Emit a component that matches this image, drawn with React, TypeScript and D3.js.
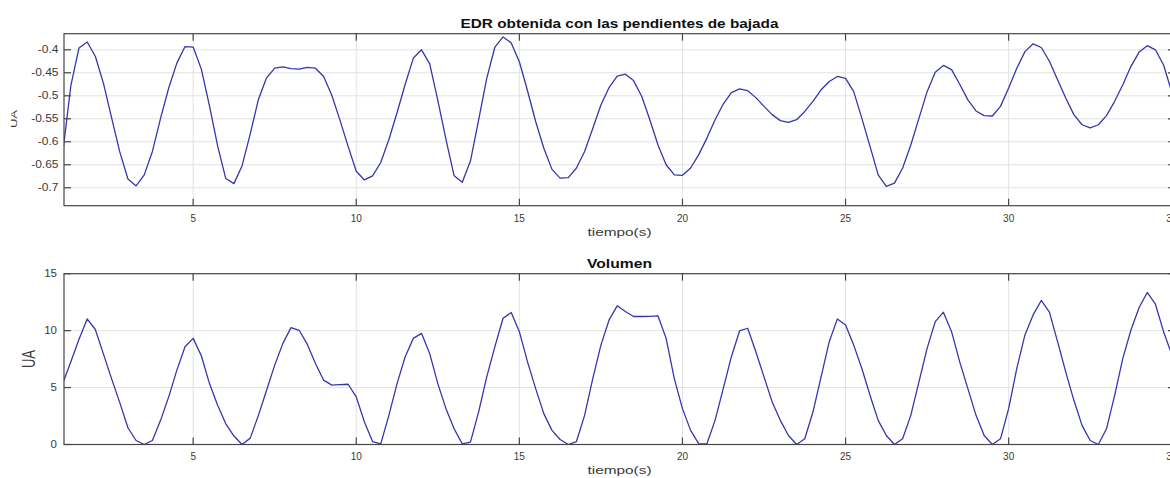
import React from "react";
import * as d3 from "d3";

// Sampling grid of both signals (seconds)
const T_START = 1.0;
const T_STEP = 0.25;

// EDR signal obtained from the down-slopes (arbitrary units)
const edr: number[] = [
  -0.625, -0.478, -0.396, -0.383, -0.414, -0.473, -0.548, -0.622, -0.681, -0.696,
  -0.672, -0.621, -0.549, -0.483, -0.429, -0.393, -0.394, -0.442, -0.522, -0.609,
  -0.680, -0.691, -0.652, -0.583, -0.508, -0.461, -0.440, -0.437, -0.441, -0.442,
  -0.438, -0.440, -0.458, -0.499, -0.553, -0.610, -0.664, -0.683, -0.674, -0.645,
  -0.595, -0.537, -0.475, -0.418, -0.400, -0.430, -0.510, -0.595, -0.674, -0.688,
  -0.642, -0.553, -0.462, -0.394, -0.372, -0.385, -0.426, -0.489, -0.556, -0.614,
  -0.660, -0.679, -0.678, -0.657, -0.621, -0.571, -0.520, -0.482, -0.457, -0.453,
  -0.467, -0.501, -0.552, -0.607, -0.650, -0.672, -0.673, -0.657, -0.628, -0.592,
  -0.552, -0.518, -0.493, -0.485, -0.489, -0.504, -0.523, -0.541, -0.554, -0.558,
  -0.552, -0.534, -0.512, -0.487, -0.469, -0.458, -0.462, -0.491, -0.549, -0.610,
  -0.672, -0.697, -0.690, -0.657, -0.607, -0.549, -0.491, -0.449, -0.434, -0.443,
  -0.475, -0.509, -0.533, -0.543, -0.544, -0.523, -0.483, -0.440, -0.404, -0.387,
  -0.395, -0.425, -0.465, -0.505, -0.541, -0.563, -0.570, -0.563, -0.543, -0.512,
  -0.476, -0.436, -0.405, -0.391, -0.400, -0.433, -0.492,
];

// Respiratory volume (arbitrary units)
const volumen: number[] = [
  5.35, 7.26, 9.24, 11.03, 10.1, 7.94, 5.76, 3.68, 1.47, 0.35,
  0.0, 0.35, 2.12, 4.18, 6.53, 8.59, 9.32, 7.79, 5.35, 3.44,
  1.82, 0.74, 0.0, 0.56, 2.56, 4.76, 6.97, 8.88, 10.26, 10.03,
  8.79, 7.12, 5.65, 5.21, 5.26, 5.29, 4.18, 1.97, 0.26, 0.06,
  2.56, 5.35, 7.71, 9.32, 9.76, 8.0, 5.35, 3.15, 1.38, 0.06,
  0.21, 2.85, 5.94, 8.59, 11.09, 11.59, 9.91, 7.26, 4.91, 2.71,
  1.24, 0.44, 0.0, 0.26, 2.56, 5.79, 8.73, 10.94, 12.18, 11.68,
  11.24, 11.24, 11.26, 11.29, 9.32, 5.79, 3.15, 1.24, 0.06, 0.06,
  2.12, 4.91, 7.71, 9.97, 10.21, 8.15, 5.94, 3.74, 2.12, 0.79,
  0.0, 0.5, 2.85, 5.94, 9.03, 11.03, 10.5, 8.73, 6.68, 4.32,
  2.12, 0.79, 0.0, 0.5, 2.56, 5.5, 8.44, 10.79, 11.62, 9.91,
  7.26, 4.91, 2.56, 0.79, 0.0, 0.5, 3.15, 6.68, 9.62, 11.38,
  12.65, 11.62, 9.03, 6.38, 3.88, 1.68, 0.35, 0.0, 1.38, 4.32,
  7.56, 10.06, 12.03, 13.35, 12.32, 9.91, 7.9,
];

const xTicks = [5, 10, 15, 20, 25, 30, 35];
const edrTicks = [-0.7, -0.65, -0.6, -0.55, -0.5, -0.45, -0.4];
const edrTickLabels = ["-0.7", "-0.65", "-0.6", "-0.55", "-0.5", "-0.45", "-0.4"];
const volTicks = [0, 5, 10, 15];
const volTickLabels = ["0", "5", "10", "15"];

const FONT = "'Liberation Sans', Arial, Helvetica, sans-serif";
const LINE_COLOR = "#3636ad";
const AXIS_COLOR = "#474747";
const GRID_COLOR = "#e2e2e2";
const TEXT_COLOR = "#3a3a3a";

const LEFT = 64;
const RIGHT = 1175;
const TICK_LEN = 7;

const x = d3.scaleLinear().domain([1.04, 35.1]).range([LEFT, RIGHT]);

type Panel = {
  id: string;
  top: number;
  bottom: number;
  domain: [number, number];
  values: number[];
  ticks: number[];
  tickLabels: string[];
  tickLabelRight: number;
  tickLabelScale: number;
  title: string;
  titleY: number;
  titleLen: number;
  xLabelY: number;
  yLabel: { cx: number; cy: number; along: number; across: number };
};

const panels: Panel[] = [
  {
    id: "edr",
    top: 33.7,
    bottom: 205.7,
    domain: [-0.739, -0.365],
    values: edr,
    ticks: edrTicks,
    tickLabels: edrTickLabels,
    tickLabelRight: 58.5,
    tickLabelScale: 1.2,
    title: "EDR obtenida con las pendientes de bajada",
    titleY: 28,
    titleLen: 318,
    xLabelY: 235.5,
    yLabel: { cx: 13.5, cy: 119, along: 1.3, across: 0.95 },
  },
  {
    id: "vol",
    top: 273.7,
    bottom: 444.5,
    domain: [0, 15],
    values: volumen,
    ticks: volTicks,
    tickLabels: volTickLabels,
    tickLabelRight: 57,
    tickLabelScale: 1.15,
    title: "Volumen",
    titleY: 268,
    titleLen: 65,
    xLabelY: 474,
    yLabel: { cx: 28.3, cy: 359, along: 1.3, across: 1.8 },
  },
];

function PanelView({ p }: { p: Panel }) {
  const y = d3.scaleLinear().domain(p.domain).range([p.bottom, p.top]);
  const line = d3
    .line<number>()
    .x((_, i) => x(T_START + i * T_STEP))
    .y((v) => y(v));
  const clipId = `clip-${p.id}`;
  const visibleX = xTicks.filter((t) => x(t) <= RIGHT);
  return (
    <g>
      <defs>
        <clipPath id={clipId}>
          <rect x={LEFT} y={p.top} width={RIGHT - LEFT} height={p.bottom - p.top} />
        </clipPath>
      </defs>
      <rect x={LEFT} y={p.top} width={RIGHT - LEFT} height={p.bottom - p.top} fill="#fff" />
      {/* grid */}
      {visibleX.map((t) => (
        <line key={`gx${t}`} x1={x(t)} x2={x(t)} y1={p.top} y2={p.bottom} stroke={GRID_COLOR} strokeWidth={1} />
      ))}
      {p.ticks.map((t) => (
        <line key={`gy${t}`} x1={LEFT} x2={RIGHT} y1={y(t)} y2={y(t)} stroke={GRID_COLOR} strokeWidth={1} />
      ))}
      {/* signal */}
      <path
        d={line(p.values) ?? ""}
        fill="none"
        stroke={LINE_COLOR}
        strokeWidth={1.3}
        strokeLinejoin="round"
        clipPath={`url(#${clipId})`}
      />
      {/* box */}
      <rect
        x={LEFT}
        y={p.top}
        width={RIGHT - LEFT}
        height={p.bottom - p.top}
        fill="none"
        stroke={AXIS_COLOR}
        strokeWidth={1.2}
      />
      {/* ticks */}
      {visibleX.map((t) => (
        <g key={`tx${t}`} stroke={AXIS_COLOR} strokeWidth={1.2}>
          <line x1={x(t)} x2={x(t)} y1={p.bottom} y2={p.bottom - TICK_LEN} />
          <line x1={x(t)} x2={x(t)} y1={p.top} y2={p.top + TICK_LEN} />
        </g>
      ))}
      {p.ticks.map((t) => (
        <g key={`ty${t}`} stroke={AXIS_COLOR} strokeWidth={1.2}>
          <line x1={LEFT} x2={LEFT + TICK_LEN} y1={y(t)} y2={y(t)} />
          <line x1={RIGHT} x2={RIGHT - TICK_LEN} y1={y(t)} y2={y(t)} />
        </g>
      ))}
      {/* tick labels */}
      {xTicks.map((t) => (
        <text
          key={`lx${t}`}
          x={x(t)}
          y={p.bottom + 15.8}
          textAnchor="middle"
          fontSize={10}
          fontFamily={FONT}
          fill={TEXT_COLOR}
        >
          {t}
        </text>
      ))}
      {p.ticks.map((t, i) => (
        <text
          key={`ly${t}`}
          transform={`translate(${p.tickLabelRight},${y(t) + 3.6}) scale(${p.tickLabelScale},1)`}
          textAnchor="end"
          fontSize={10}
          fontFamily={FONT}
          fill={TEXT_COLOR}
        >
          {p.tickLabels[i]}
        </text>
      ))}
      {/* title */}
      <text
        x={(LEFT + RIGHT) / 2}
        y={p.titleY}
        textAnchor="middle"
        fontSize={12}
        fontWeight="bold"
        fontFamily={FONT}
        fill="#111"
        textLength={p.titleLen}
        lengthAdjust="spacingAndGlyphs"
      >
        {p.title}
      </text>
      {/* x label */}
      <text
        x={(LEFT + RIGHT) / 2}
        y={p.xLabelY}
        textAnchor="middle"
        fontSize={11}
        fontFamily={FONT}
        fill={TEXT_COLOR}
        textLength={64}
        lengthAdjust="spacingAndGlyphs"
      >
        tiempo(s)
      </text>
      {/* y label */}
      <text
        transform={`translate(${p.yLabel.cx},${p.yLabel.cy}) rotate(-90) scale(${p.yLabel.along},${p.yLabel.across})`}
        textAnchor="middle"
        dominantBaseline="central"
        fontSize={10}
        fontFamily={FONT}
        fill={TEXT_COLOR}
      >
        UA
      </text>
    </g>
  );
}

export default function App() {
  return (
    <svg
      width={1170}
      height={478}
      viewBox="0 0 1170 478"
      style={{ position: "absolute", left: 0, top: 0, background: "#fff", display: "block" }}
    >
      <rect x={0} y={0} width={1170} height={478} fill="#fff" />
      {panels.map((p) => (
        <PanelView key={p.id} p={p} />
      ))}
    </svg>
  );
}
